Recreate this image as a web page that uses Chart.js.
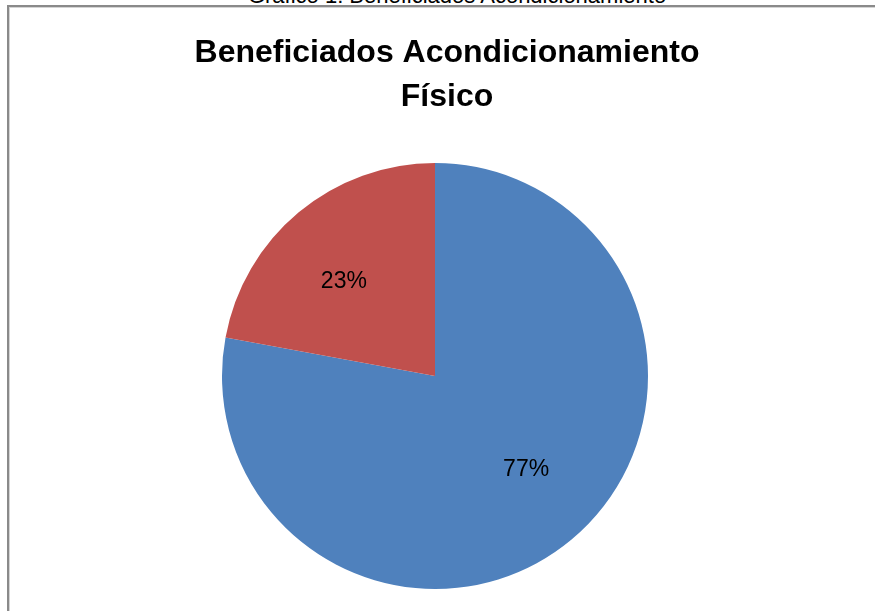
<!DOCTYPE html>
<html>
<head>
<meta charset="utf-8">
<script src="https://cdn.jsdelivr.net/npm/chart.js@4/dist/chart.umd.min.js"></script>
<style>
  html, body { margin: 0; padding: 0; background: #ffffff; overflow: hidden; }
  #wrap { position: relative; width: 875px; height: 611px; overflow: hidden; }
  #caption { position: absolute; left: 0; top: -15px; width: 914px; text-align: center;
    font-family: "Liberation Sans", Arial, sans-serif; font-size: 22px; line-height: 22px; color: #000; white-space: nowrap; }
  #frame { position: absolute; left: 7px; top: 5px; width: 900px; height: 700px;
    border-left: 2px solid #8a8a8a; border-top: 2px solid #8a8a8a; box-sizing: border-box; }
  #frame2 { position: absolute; left: 9px; top: 7px; width: 900px; height: 700px;
    border-left: 1px solid #d4d4d4; border-top: 1px solid #d4d4d4; box-sizing: border-box; }
  #c { position: absolute; left: 0; top: 0; }
</style>
</head>
<body>
<div id="wrap">
  <div id="caption">Gráfico 1: Beneficiados Acondicionamiento</div>
  <div id="frame"></div>
  <div id="frame2"></div>
  <canvas id="c" width="875" height="611"></canvas>
</div>
<script>
// Data
const categories = ["Beneficiados", "No beneficiados"];
const shares = [77.9, 22.1];            // slice sizes
const percentLabels = ["77%", "23%"];   // labels as printed on the slices
const sliceColors = ["#4F81BD", "#C0504D"];
const titleLines = ["Beneficiados Acondicionamiento", "Físico"];

const sliceLabels = {
  id: "sliceLabels",
  afterDatasetsDraw(chart) {
    const ctx = chart.ctx;
    const meta = chart.getDatasetMeta(0);
    ctx.save();
    ctx.font = '23px "Liberation Sans", Arial, sans-serif';
    ctx.fillStyle = "#000";
    ctx.textAlign = "center";
    ctx.textBaseline = "middle";
    meta.data.forEach((arc, i) => {
      const p = arc.getProps(["x", "y", "startAngle", "endAngle", "outerRadius"], true);
      const mid = (p.startAngle + p.endAngle) / 2 - 4.3 * Math.PI / 180;
      const r = p.outerRadius * 0.615;
      ctx.fillText(percentLabels[i], p.x + Math.cos(mid) * r, p.y + Math.sin(mid) * r);
    });
    ctx.restore();
  }
};

const chartTitle = {
  id: "chartTitle",
  afterDraw(chart) {
    const ctx = chart.ctx;
    ctx.save();
    ctx.font = 'bold 32px "Liberation Sans", Arial, sans-serif';
    ctx.fillStyle = "#000";
    ctx.textAlign = "center";
    ctx.textBaseline = "middle";
    titleLines.forEach((t, i) => ctx.fillText(t, 447, 53 + i * 44));
    ctx.restore();
  }
};

new Chart(document.getElementById("c"), {
  type: "pie",
  data: {
    labels: categories,
    datasets: [{
      data: shares,
      backgroundColor: sliceColors,
      borderWidth: 0
    }]
  },
  options: {
    responsive: false,
    animation: false,
    layout: { padding: { left: 0, right: 5, top: 163, bottom: 22 } },
    plugins: {
      legend: { display: false },
      tooltip: { enabled: false },
      title: { display: false }
    }
  },
  plugins: [sliceLabels, chartTitle]
});
</script>
</body>
</html>
